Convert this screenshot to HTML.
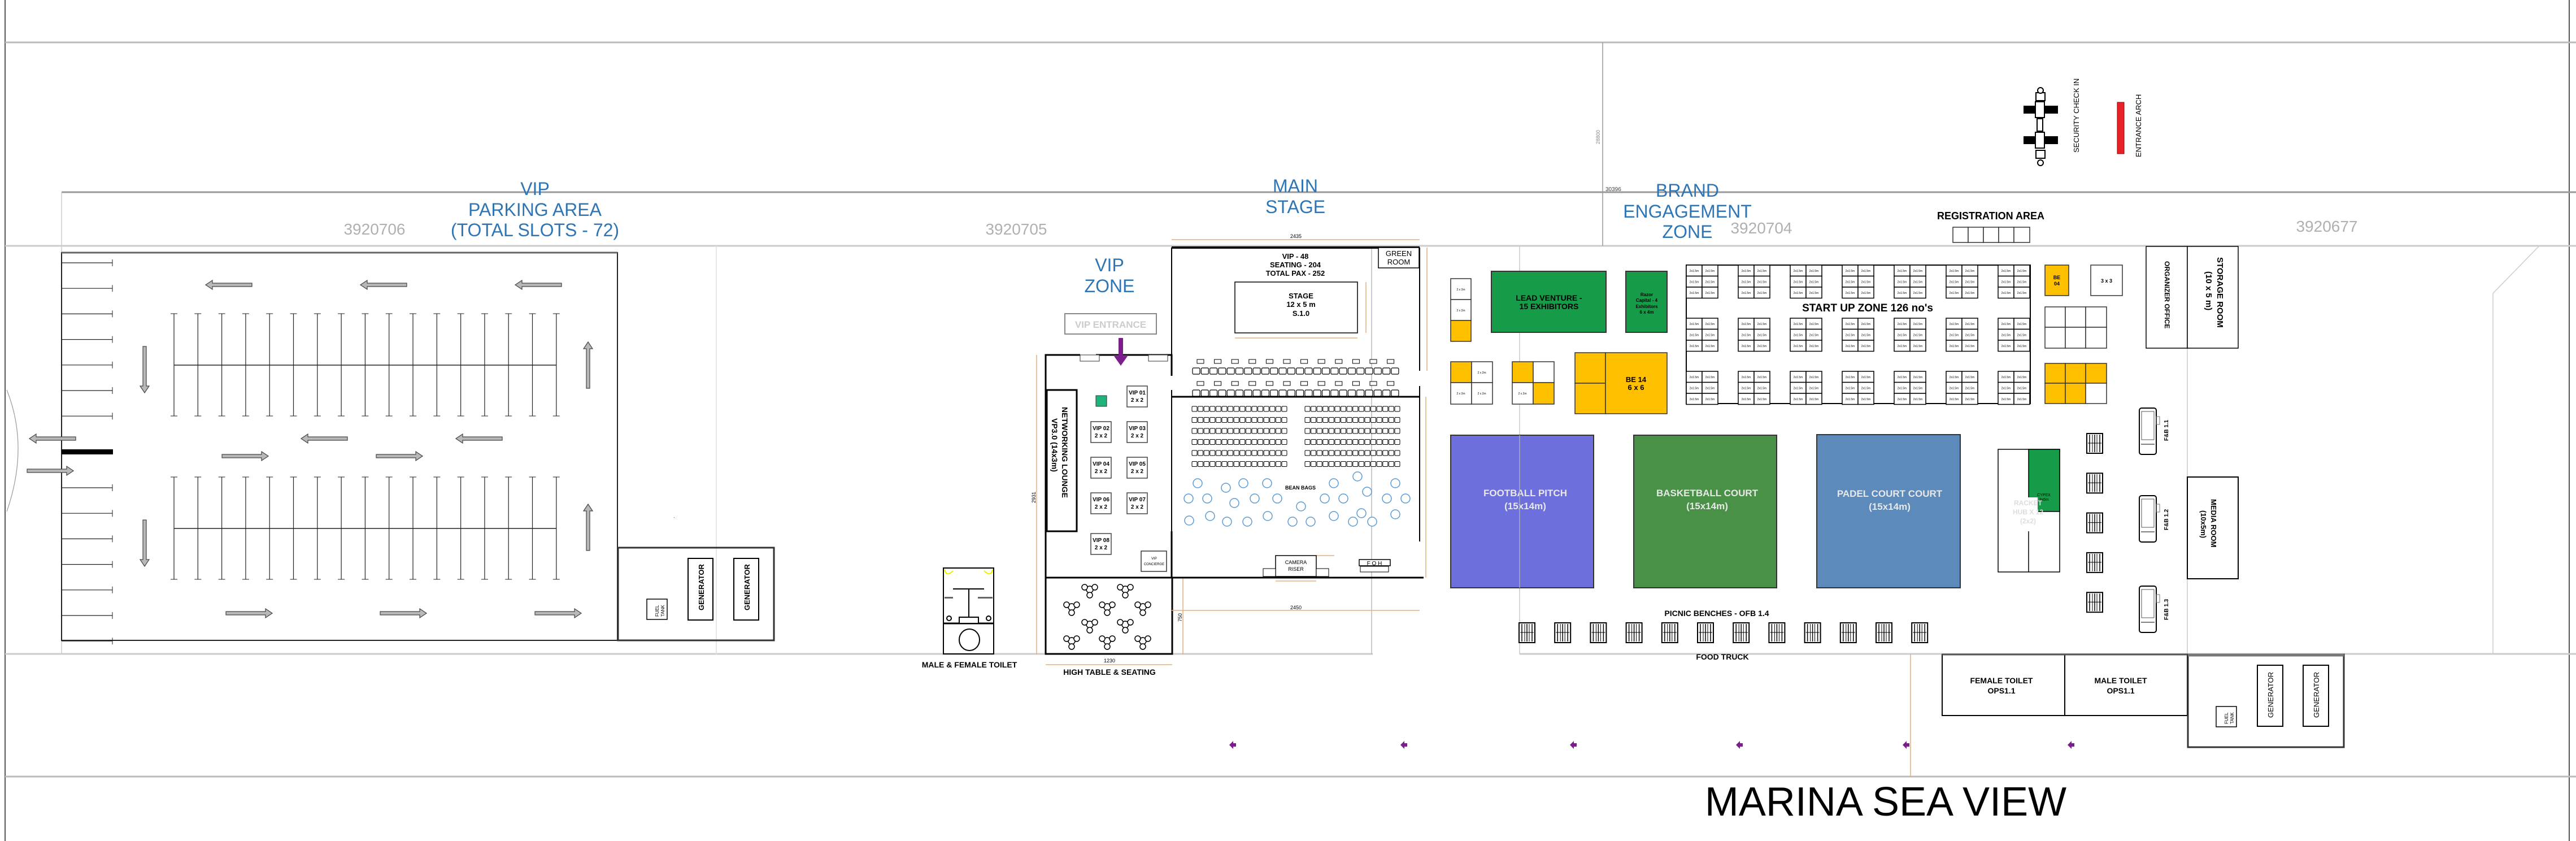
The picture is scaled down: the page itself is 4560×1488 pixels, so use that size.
<!DOCTYPE html>
<html><head><meta charset="utf-8"><style>
html,body{margin:0;padding:0;background:#fff;width:4560px;height:1488px;overflow:hidden}
svg{display:block}
text{font-family:"Liberation Sans",sans-serif}
.blue{fill:#2e75b6;font-size:32px;text-anchor:middle}
.gray{fill:#b0b0b0;font-size:28px;text-anchor:middle}
.b{font-weight:bold}
</style></head><body>
<svg id="s" width="4560" height="1488" viewBox="0 0 4560 1488" xmlns="http://www.w3.org/2000/svg">
<defs>
<g id="arrL"><path d="M0,0 L12,-8 L12,-3 L82,-3 L82,3 L12,3 L12,8 Z" fill="#b8b8b8" stroke="#444" stroke-width="1.2"/></g>
<g id="bench"><rect x="0" y="0" width="28" height="35" fill="#fff" stroke="#000" stroke-width="2"/><line x1="5" y1="2" x2="5" y2="33" stroke="#000" stroke-width="1.5"/><line x1="10" y1="2" x2="10" y2="33" stroke="#000"/><line x1="14" y1="2" x2="14" y2="33" stroke="#000" stroke-width="1.5"/><line x1="18" y1="2" x2="18" y2="33" stroke="#000"/><line x1="23" y1="2" x2="23" y2="33" stroke="#000" stroke-width="1.5"/><line x1="2" y1="17" x2="26" y2="17" stroke="#000"/></g>
<g id="truck"><rect x="0" y="0" width="30" height="82" rx="4" fill="#fff" stroke="#000" stroke-width="2"/><rect x="4" y="6" width="22" height="50" fill="none" stroke="#555"/><rect x="30" y="15" width="6" height="14" fill="none" stroke="#777"/><line x1="3" y1="64" x2="27" y2="64" stroke="#000"/></g>
<g id="trio" fill="#fff" stroke="#000" stroke-width="1.5"><circle cx="0" cy="0" r="6"/><circle cx="-9" cy="-4" r="5"/><circle cx="9" cy="-4" r="5"/><circle cx="0" cy="10" r="5"/></g>
</defs>
<!-- page frame lines -->
<line x1="9" y1="0" x2="9" y2="1488" stroke="#555" stroke-width="2"/>
<line x1="4548" y1="0" x2="4548" y2="1488" stroke="#555" stroke-width="2"/>
<line x1="9" y1="75" x2="4560" y2="75" stroke="#bbb" stroke-width="3"/>
<line x1="109" y1="340" x2="4560" y2="340" stroke="#999" stroke-width="3"/>
<line x1="9" y1="435" x2="4560" y2="435" stroke="#ccc" stroke-width="3"/>
<line x1="9" y1="1157" x2="2430" y2="1157" stroke="#ccc" stroke-width="3"/>
<line x1="2690" y1="1157" x2="4560" y2="1157" stroke="#ccc" stroke-width="3"/>
<line x1="9" y1="1374" x2="4560" y2="1374" stroke="#bbb" stroke-width="3"/>
<line x1="2837" y1="75" x2="2837" y2="435" stroke="#999" stroke-width="1.5"/>
<line x1="109" y1="340" x2="109" y2="1158" stroke="#ccc" stroke-width="1.5"/>
<line x1="1268" y1="435" x2="1268" y2="1158" stroke="#ddd" stroke-width="1.5"/>
<line x1="2428" y1="438" x2="2428" y2="1158" stroke="#bbb" stroke-width="1.5"/>
<line x1="2690" y1="435" x2="2690" y2="1158" stroke="#ccc" stroke-width="1.5"/>
<line x1="3872" y1="436" x2="3872" y2="1158" stroke="#ccc" stroke-width="1.5"/>
<line x1="4413" y1="519" x2="4413" y2="1158" stroke="#ccc" stroke-width="1.5"/>
<line x1="4413" y1="519" x2="4494" y2="436" stroke="#ccc" stroke-width="1.5"/>
<line x1="3382" y1="1157" x2="3382" y2="1374" stroke="#e0b080" stroke-width="1.5"/>
<text x="2832" y="255" font-size="9" fill="#888" transform="rotate(-90 2832 255)">28800</text>
<text x="2842" y="338" font-size="10" fill="#444">30396</text>

<!-- headings -->
<text class="blue" x="947" y="345">VIP</text>
<text class="blue" x="947" y="382">PARKING AREA</text>
<text class="blue" x="947" y="418">(TOTAL SLOTS - 72)</text>
<text class="gray" x="663" y="415">3920706</text>
<text class="gray" x="1799" y="415">3920705</text>
<text class="blue" x="2293" y="340">MAIN</text>
<text class="blue" x="2293" y="377">STAGE</text>
<text class="blue" x="1964" y="480">VIP</text>
<text class="blue" x="1964" y="517">ZONE</text>
<text class="blue" x="2987" y="348">BRAND</text>
<text class="blue" x="2987" y="385">ENGAGEMENT</text>
<text class="blue" x="2987" y="421">ZONE</text>
<text class="gray" x="3118" y="413">3920704</text>
<text class="gray" x="4119" y="410">3920677</text>
<text x="3524" y="388" font-size="18" class="b" text-anchor="middle">REGISTRATION AREA</text>
<g fill="#fff" stroke="#333" stroke-width="1.5"><rect x="3457" y="402" width="27" height="27"/><rect x="3484" y="402" width="27" height="27"/><rect x="3511" y="402" width="27" height="27"/><rect x="3538" y="402" width="27" height="27"/><rect x="3565" y="402" width="28" height="27"/></g>

<!-- security & arch -->
<g stroke="#000" fill="#fff" stroke-width="2">
<rect x="3583" y="188" width="59" height="12" fill="#000"/><rect x="3583" y="242" width="59" height="12" fill="#000"/>
<rect x="3603" y="180" width="16" height="28"/><rect x="3603" y="234" width="16" height="28"/>
<rect x="3604" y="164" width="16" height="14"/><rect x="3604" y="266" width="16" height="14"/>
<rect x="3606" y="210" width="10" height="22"/>
<circle cx="3612" cy="160" r="5"/><circle cx="3612" cy="288" r="5"/>
</g>
<text x="3680" y="270" font-size="13" transform="rotate(-90 3680 270)">SECURITY CHECK IN</text>
<rect x="3748" y="181" width="12" height="91" fill="#e8202a" stroke="#900"/>
<text x="3790" y="278" font-size="13" transform="rotate(-90 3790 278)">ENTRANCE ARCH</text>

<!-- parking -->
<rect x="109" y="447" width="984" height="686" fill="none" stroke="#222" stroke-width="2"/>
<line x1="109" y1="447" x2="1093" y2="447" stroke="#666" stroke-width="3"/>
<path d="M12,690 Q52,790 12,905" fill="none" stroke="#999" stroke-width="1.2"/>
<rect x="109" y="795" width="91" height="9" fill="#000"/>
<g id="park"></g>
<text x="1192" y="916" font-size="10" fill="#444">.</text>

<!-- generator left -->
<rect x="1094" y="969" width="276" height="164" fill="none" stroke="#333" stroke-width="3"/>
<rect x="1145" y="1060" width="36" height="36" fill="#fff" stroke="#000" stroke-width="1.5"/>
<text x="1166" y="1091" font-size="8" transform="rotate(-90 1166 1091)">FUEL</text><text x="1176" y="1091" font-size="8" transform="rotate(-90 1176 1091)">TANK</text>
<rect x="1218" y="988" width="44" height="109" fill="#fff" stroke="#000" stroke-width="2"/>
<rect x="1299" y="988" width="44" height="109" fill="#fff" stroke="#000" stroke-width="2"/>
<text x="1246" y="1080" font-size="13" class="b" transform="rotate(-90 1246 1080)">GENERATOR</text>
<text x="1327" y="1080" font-size="13" class="b" transform="rotate(-90 1327 1080)">GENERATOR</text>

<!-- toilet block -->
<g stroke="#000" fill="#fff" stroke-width="2">
<rect x="1670" y="1005" width="89" height="152"/>
<line x1="1670" y1="1103" x2="1759" y2="1103" stroke-width="3"/>
<ellipse cx="1716" cy="1132" rx="18" ry="19"/>
<line x1="1687" y1="1042" x2="1742" y2="1042"/>
<line x1="1715" y1="1042" x2="1715" y2="1103"/>
<rect x="1672" y="1056" width="15" height="3" fill="#666" stroke="none"/><rect x="1731" y="1056" width="26" height="3" fill="#666" stroke="none"/>
<circle cx="1680" cy="1094" r="4"/><circle cx="1750" cy="1094" r="4"/>
<rect x="1698" y="1092" width="34" height="11"/>
</g>
<path d="M1672,1007 Q1675,1022 1687,1010 M1757,1007 Q1755,1022 1742,1010" stroke="#ee0" fill="none" stroke-width="2"/>
<text x="1716" y="1181" font-size="14" class="b" text-anchor="middle">MALE &amp; FEMALE TOILET</text>

<!-- VIP zone -->
<g stroke="#000" stroke-width="3" fill="none">
<path d="M1851,1022 L1851,628 L1912,628 M1940,628 L2074,628 L2074,665"/>
<rect x="1851" y="1022" width="224" height="135"/>
<path d="M2074,940 L2074,1022"/>
</g>
<line x1="1835" y1="628" x2="1835" y2="1158" stroke="#e0b080" stroke-width="1.5"/>
<text x="1833" y="890" font-size="9" transform="rotate(-90 1833 890)">2931</text>
<line x1="1851" y1="1176" x2="2075" y2="1176" stroke="#e0b080" stroke-width="1.5"/>
<text x="1964" y="1172" font-size="9" text-anchor="middle">1230</text>
<text x="1964" y="1194" font-size="14" class="b" text-anchor="middle">HIGH TABLE &amp; SEATING</text>
<line x1="2094" y1="1022" x2="2094" y2="1158" stroke="#e0b080" stroke-width="1.5"/>
<text x="2092" y="1100" font-size="9" transform="rotate(-90 2092 1100)">750</text>
<rect x="1912" y="628" width="34" height="11" fill="#fff" stroke="#333"/><rect x="2033" y="628" width="34" height="11" fill="#fff" stroke="#333"/>
<rect x="1885" y="555" width="162" height="36" fill="#fff" stroke="#888" stroke-width="2"/>
<text x="1966" y="580" font-size="17" fill="#ccc" class="b" text-anchor="middle">VIP ENTRANCE</text>
<path d="M1980,598 L1988,598 L1988,630 L1996,630 L1984,647 L1972,630 L1980,630 Z" fill="#7b1e8c"/>
<rect x="1853" y="690" width="53" height="250" fill="#fff" stroke="#000" stroke-width="3"/>
<text x="1880" y="720" font-size="14" class="b" transform="rotate(90 1880 720)">NETWORKING LOUNGE</text>
<text x="1862" y="740" font-size="14" class="b" transform="rotate(90 1862 740)">VP3.0 (14x3m)</text>
<rect x="1940" y="700" width="19" height="19" fill="#1fb57a" stroke="#333"/>
<g font-size="10" class="b" text-anchor="middle">
<g id="vips"></g>
</g>
<rect x="2020" y="975" width="45" height="36" fill="#fff" stroke="#333" stroke-width="1.5"/>
<text x="2043" y="990" font-size="6" text-anchor="middle">VIP</text><text x="2043" y="1000" font-size="6" text-anchor="middle">CONCIERGE</text>
<g id="trios"></g>

<!-- Main stage -->
<g stroke="#000" fill="none">
<line x1="2074" y1="438" x2="2513" y2="438" stroke-width="4"/>
<line x1="2074" y1="438" x2="2074" y2="656" stroke-width="2"/>
<line x1="2513" y1="438" x2="2513" y2="656" stroke-width="2"/>
<line x1="2074" y1="702" x2="2513" y2="702" stroke-width="3"/>
<line x1="2074" y1="690" x2="2074" y2="958" stroke-width="2"/>
<line x1="2513" y1="683" x2="2513" y2="958" stroke-width="2"/>
<line x1="2074" y1="1022" x2="2520" y2="1022" stroke-width="3"/>
</g>
<g stroke="#e0b080" stroke-width="1.5" fill="none">
<line x1="2074" y1="424" x2="2513" y2="424"/><line x1="2526" y1="438" x2="2526" y2="656"/><line x1="2524" y1="702" x2="2524" y2="1022"/>
<line x1="2186" y1="598" x2="2403" y2="598"/><line x1="2418" y1="499" x2="2418" y2="589"/>
<line x1="2074" y1="1080" x2="2513" y2="1080"/><line x1="2258" y1="1028" x2="2330" y2="1028"/>
<line x1="2330" y1="983" x2="2362" y2="983"/>
</g>
<text x="2294" y="421" font-size="9" text-anchor="middle">2435</text>
<text x="2294" y="1078" font-size="9" text-anchor="middle">2450</text>
<rect x="2440" y="438" width="72" height="36" fill="#fff" stroke="#000" stroke-width="1.5"/>
<text x="2476" y="453" font-size="13" text-anchor="middle">GREEN</text><text x="2476" y="468" font-size="13" text-anchor="middle">ROOM</text>
<text x="2293" y="458" font-size="13" class="b" text-anchor="middle">VIP - 48</text>
<text x="2293" y="473" font-size="13" class="b" text-anchor="middle">SEATING - 204</text>
<text x="2293" y="488" font-size="13" class="b" text-anchor="middle">TOTAL PAX - 252</text>
<rect x="2186" y="499" width="217" height="90" fill="#fff" stroke="#000" stroke-width="1.5"/>
<text x="2303" y="528" font-size="13" class="b" text-anchor="middle">STAGE</text>
<text x="2303" y="543" font-size="13" class="b" text-anchor="middle">12 x 5 m</text>
<text x="2303" y="559" font-size="13" class="b" text-anchor="middle">S.1.0</text>
<g id="seats"></g>
<text x="2302" y="866" font-size="9" class="b" text-anchor="middle">BEAN BAGS</text>
<rect x="2258" y="983" width="72" height="37" fill="#fff" stroke="#000" stroke-width="1.5"/>
<text x="2294" y="998" font-size="9" text-anchor="middle">CAMERA</text><text x="2294" y="1010" font-size="9" text-anchor="middle">RISER</text>
<rect x="2236" y="1006" width="22" height="14" fill="#fff" stroke="#000"/><rect x="2330" y="1006" width="22" height="14" fill="#fff" stroke="#000"/>
<rect x="2406" y="990" width="55" height="11" fill="#fff" stroke="#000" stroke-width="1.5"/>
<text x="2433" y="1000" font-size="10" text-anchor="middle">F O H</text>
<rect x="2408" y="1002" width="50" height="10" fill="#fff" stroke="#000"/>

<!-- Brand engagement -->
<rect x="2640" y="480" width="203" height="108" fill="#169b48" stroke="#333" stroke-width="2"/>
<text x="2742" y="532" font-size="14" class="b" text-anchor="middle">LEAD VENTURE -</text>
<text x="2742" y="547" font-size="14" class="b" text-anchor="middle">15 EXHIBITORS</text>
<rect x="2878" y="480" width="73" height="108" fill="#169b48" stroke="#333" stroke-width="2"/>
<g font-size="8" class="b" text-anchor="middle"><text x="2915" y="524">Razor</text><text x="2915" y="534">Capital - 4</text><text x="2915" y="545">Exhibitors</text><text x="2915" y="555">6 x 4m</text></g>
<g stroke="#333" stroke-width="1.5">
<rect x="2788" y="624" width="54" height="54" fill="#ffc000"/><rect x="2788" y="678" width="54" height="54" fill="#ffc000"/><rect x="2842" y="624" width="109" height="108" fill="#ffc000"/>
<rect x="2568" y="493" width="36" height="37" fill="#fff"/><rect x="2568" y="530" width="36" height="37" fill="#fff"/><rect x="2568" y="567" width="36" height="37" fill="#ffc000"/>
<rect x="2568" y="640" width="37" height="37" fill="#ffc000"/><rect x="2605" y="640" width="37" height="37" fill="#fff"/><rect x="2568" y="677" width="37" height="38" fill="#fff"/><rect x="2605" y="677" width="37" height="38" fill="#fff"/>
<rect x="2677" y="640" width="37" height="37" fill="#ffc000"/><rect x="2714" y="640" width="37" height="37" fill="#fff"/><rect x="2677" y="677" width="37" height="38" fill="#fff"/><rect x="2714" y="677" width="37" height="38" fill="#ffc000"/>
</g>
<text x="2896" y="676" font-size="13" class="b" text-anchor="middle">BE 14</text><text x="2896" y="690" font-size="13" class="b" text-anchor="middle">6 x 6</text>
<g font-size="5" text-anchor="middle"><text x="2586" y="514">2 x 2m</text><text x="2586" y="551">2 x 2m</text><text x="2623" y="661">2 x 2m</text><text x="2586" y="698">2 x 2m</text><text x="2623" y="698">2 x 2m</text><text x="2695" y="698">2 x 2m</text></g>
<rect x="2985" y="469" width="609" height="245" fill="none" stroke="#000" stroke-width="2"/>
<g id="booths"></g>
<text x="3306" y="551" font-size="19" class="b" text-anchor="middle">START UP ZONE 126 no's</text>
<rect x="3620" y="469" width="42" height="54" fill="#ffc000" stroke="#333" stroke-width="1.5"/>
<text x="3641" y="494" font-size="9" class="b" text-anchor="middle">BE</text><text x="3641" y="505" font-size="9" class="b" text-anchor="middle">04</text>
<rect x="3701" y="469" width="56" height="54" fill="#fff" stroke="#333" stroke-width="1.5"/>
<text x="3729" y="500" font-size="9" class="b" text-anchor="middle">3 x 3</text>
<g stroke="#333" stroke-width="1.5">
<rect x="3620" y="543" width="36" height="36" fill="#fff"/><rect x="3656" y="543" width="36" height="36" fill="#fff"/><rect x="3692" y="543" width="37" height="36" fill="#fff"/>
<rect x="3620" y="579" width="36" height="37" fill="#fff"/><rect x="3656" y="579" width="36" height="37" fill="#fff"/><rect x="3692" y="579" width="37" height="37" fill="#fff"/>
<rect x="3620" y="643" width="36" height="35" fill="#ffc000"/><rect x="3656" y="643" width="36" height="35" fill="#ffc000"/><rect x="3692" y="643" width="37" height="35" fill="#ffc000"/>
<rect x="3620" y="678" width="36" height="36" fill="#ffc000"/><rect x="3656" y="678" width="36" height="36" fill="#ffc000"/><rect x="3692" y="678" width="37" height="36" fill="#fff"/>
</g>
<rect x="2568" y="770" width="253" height="270" fill="#6d6fdc" stroke="#333" stroke-width="2"/>
<rect x="2892" y="770" width="253" height="270" fill="#4a9148" stroke="#333" stroke-width="2"/>
<rect x="3216" y="769" width="254" height="271" fill="#5b8abb" stroke="#333" stroke-width="2"/>
<g fill="#e8e8e8" font-size="17" class="b" text-anchor="middle">
<text x="2700" y="878">FOOTBALL PITCH</text><text x="2700" y="901" class="b">(15x14m)</text>
<text x="3022" y="878">BASKETBALL COURT</text><text x="3022" y="901">(15x14m)</text>
<text x="3345" y="879">PADEL COURT COURT</text><text x="3345" y="902">(15x14m)</text>
</g>
<line x1="2690" y1="770" x2="2690" y2="1040" stroke="#aab" stroke-width="1.5"/>
<rect x="3537" y="795" width="109" height="217" fill="#fff" stroke="#000" stroke-width="1.5"/>
<rect x="3591" y="795" width="55" height="110" fill="#169b48" stroke="#000" stroke-width="1.5"/>
<line x1="3591" y1="905" x2="3591" y2="1012" stroke="#000" stroke-width="1.5"/>
<rect x="3552" y="880" width="55" height="60" fill="#fff"/>
<text x="3618" y="878" font-size="7" text-anchor="middle">CYPEX</text><text x="3618" y="886" font-size="7" text-anchor="middle">3x6m</text>
<g fill="#ddd" font-size="12" class="b" text-anchor="middle"><text x="3590" y="894">RACKET</text><text x="3590" y="910">HUB X 12</text><text x="3590" y="926">(2x2)</text></g>
<g id="benches"></g>
<text x="3039" y="1090" font-size="14" class="b" text-anchor="middle">PICNIC BENCHES - OFB 1.4</text>
<text x="3049" y="1167" font-size="14" class="b" text-anchor="middle">FOOD TRUCK</text>
<use href="#truck" x="3787" y="722"/><use href="#truck" x="3787" y="877"/><use href="#truck" x="3787" y="1037"/>
<g font-size="10" class="b"><text x="3838" y="780" transform="rotate(-90 3838 780)">F&amp;B 1.1</text><text x="3838" y="938" transform="rotate(-90 3838 938)">F&amp;B 1.2</text><text x="3838" y="1097" transform="rotate(-90 3838 1097)">F&amp;B 1.3</text></g>
<rect x="3799" y="436" width="73" height="180" fill="#fff" stroke="#000" stroke-width="1.5"/>
<rect x="3872" y="436" width="90" height="180" fill="#fff" stroke="#000" stroke-width="1.5"/>
<text x="3832" y="462" font-size="12" class="b" transform="rotate(90 3832 462)">ORGANIZER OFFICE</text>
<text x="3925" y="455" font-size="15" class="b" transform="rotate(90 3925 455)">STORAGE ROOM</text>
<text x="3905" y="480" font-size="15" class="b" transform="rotate(90 3905 480)">(10 x 5 m)</text>
<rect x="3872" y="844" width="90" height="180" fill="#fff" stroke="#000" stroke-width="2"/>
<text x="3914" y="883" font-size="13" class="b" transform="rotate(90 3914 883)">MEDIA ROOM</text>
<text x="3896" y="903" font-size="13" class="b" transform="rotate(90 3896 903)">(10x5m)</text>
<!-- toilets right -->
<rect x="3438" y="1158" width="217" height="108" fill="#fff" stroke="#000" stroke-width="2"/>
<rect x="3655" y="1158" width="217" height="108" fill="#fff" stroke="#000" stroke-width="2"/>
<line x1="3438" y1="1158" x2="3872" y2="1158" stroke="#555" stroke-width="3"/>
<g font-size="14" class="b" text-anchor="middle"><text x="3543" y="1209">FEMALE TOILET</text><text x="3543" y="1227">OPS1.1</text><text x="3754" y="1209">MALE TOILET</text><text x="3754" y="1227">OPS1.1</text></g>
<rect x="3873" y="1158" width="276" height="164" fill="none" stroke="#333" stroke-width="3"/>
<line x1="3873" y1="1159" x2="4149" y2="1159" stroke="#777" stroke-width="5"/>
<rect x="3923" y="1250" width="36" height="36" fill="#fff" stroke="#000" stroke-width="1.5"/>
<text x="3944" y="1281" font-size="8" transform="rotate(-90 3944 1281)">FUEL</text><text x="3954" y="1281" font-size="8" transform="rotate(-90 3954 1281)">TANK</text>
<rect x="3996" y="1177" width="45" height="108" fill="#fff" stroke="#000" stroke-width="2"/>
<rect x="4077" y="1177" width="45" height="108" fill="#fff" stroke="#000" stroke-width="2"/>
<text x="4024" y="1270" font-size="13" transform="rotate(-90 4024 1270)">GENERATOR</text>
<text x="4105" y="1270" font-size="13" transform="rotate(-90 4105 1270)">GENERATOR</text>
<g id="purp" fill="#7b1e8c"></g>
<text x="3338" y="1443" font-size="72" text-anchor="middle" fill="#000">MARINA SEA VIEW</text>
</svg>
<script>
var NS="http://www.w3.org/2000/svg";
function el(p,t,a){var e=document.createElementNS(NS,t);for(var k in a)e.setAttribute(k,a[k]);p.appendChild(e);return e;}
var park=document.getElementById('park');
// stalls
[[555,736,646],[844,1025,935]].forEach(function(b){
 el(park,'line',{x1:308,y1:b[2],x2:985,y2:b[2],stroke:'#222','stroke-width':1.5});
 for(var i=0;i<=16;i++){var x=308+i*42.3;
  el(park,'line',{x1:x,y1:b[0],x2:x,y2:b[1],stroke:'#222','stroke-width':1.2});
  el(park,'line',{x1:x-6,y1:b[0],x2:x+6,y2:b[0],stroke:'#222'});
  el(park,'line',{x1:x-6,y1:b[1],x2:x+6,y2:b[1],stroke:'#222'});}
});
[465,863].forEach(function(y0){for(var i=0;i<7;i++){var y=y0+i*45.2;
 el(park,'line',{x1:109,y1:y,x2:199,y2:y,stroke:'#222','stroke-width':1.2});
 el(park,'line',{x1:199,y1:y-6,x2:199,y2:y+6,stroke:'#222'});}});
function arr(x,y,dir){var g=el(park,'use',{href:'#arrL'});var t='translate('+x+','+y+')';
 if(dir=='R')t+=' rotate(180 41 0)';if(dir=='D')t='translate('+x+','+y+') rotate(-90)';if(dir=='U')t='translate('+x+','+y+') rotate(90)';g.setAttribute('transform',t);}
[364,638,912].forEach(function(x){arr(x,504,'L');});
[52,533,807].forEach(function(x){arr(x,776,'L');});
[393,666].forEach(function(x){arr(x,807,'R');});
arr(48,833,'R');
[400,673,947].forEach(function(x){arr(x,1085,'R');});
arr(256,695,'D');arr(256,1002,'D');arr(1041,605,'U');arr(1041,892,'U');
// VIP booths
var v=document.getElementById('vips');
[['VIP 01',1995,683],['VIP 02',1931,746],['VIP 03',1995,746],['VIP 04',1931,809],['VIP 05',1995,809],['VIP 06',1931,872],['VIP 07',1995,872],['VIP 08',1931,944]].forEach(function(d){
 el(v,'rect',{x:d[1],y:d[2],width:36,height:37,fill:'#fff',stroke:'#444','stroke-width':1.5});
 var t=el(v,'text',{x:d[1]+18,y:d[2]+15});t.textContent=d[0];
 var t2=el(v,'text',{x:d[1]+18,y:d[2]+28});t2.textContent='2 x 2';});
var tr=document.getElementById('trios');
[[1929,1043],[1992,1043],[1897,1074],[1960,1074],[2023,1074],[1929,1105],[1992,1105],[1897,1134],[1960,1134],[2023,1134]].forEach(function(p){el(tr,'use',{href:'#trio',x:p[0],y:p[1]});});
// seats
var s=document.getElementById('seats');
[651,690].forEach(function(y){for(var i=0;i<24;i++)el(s,'rect',{x:2111+i*15.3,y:y,width:13,height:11,rx:2,fill:'#fff',stroke:'#000','stroke-width':1.2});
 for(var j=0;j<12;j++)el(s,'rect',{x:2119+j*30.6,y:y-15,width:12,height:7,fill:'#fff',stroke:'#000'});});
for(var r=0;r<6;r++){var y=719+r*19.5;[2110,2310].forEach(function(x0){for(var i=0;i<16;i++)el(s,'rect',{x:x0+i*10.6,y:y,width:9,height:9,rx:1.5,fill:'#fff',stroke:'#000','stroke-width':1});});}
var bb=[[2120,855],[2170,863],[2201,855],[2243,855],[2361,855],[2403,843],[2470,855],[2104,882],[2137,882],[2185,890],[2221,882],[2261,882],[2345,882],[2378,882],[2420,870],[2455,882],[2488,882],[2303,896],[2410,908],[2105,921],[2142,913],[2172,923],[2208,923],[2244,913],[2288,923],[2320,923],[2361,913],[2395,923],[2429,923],[2470,910]];
bb.forEach(function(p){el(s,'circle',{cx:p[0],cy:p[1],r:8,fill:'#fff',stroke:'#5b9bd5','stroke-width':1.5});});
// startup booths
var bo=document.getElementById('booths');
[469,563,657].forEach(function(y0){for(var g=0;g<7;g++){var x0=2985+g*92;for(var c=0;c<2;c++)for(var r=0;r<3;r++){
 el(bo,'rect',{x:x0+c*28,y:y0+r*19.5,width:28,height:19.5,fill:'#fff',stroke:'#000','stroke-width':1.5});
 var t=el(bo,'text',{x:x0+c*28+14,y:y0+r*19.5+12,'font-size':5,'text-anchor':'middle'});t.textContent='2x1.5m';}}});
// benches
var be=document.getElementById('benches');
for(var i=0;i<12;i++)el(be,'use',{href:'#bench',x:2689+i*63.2,y:1102});
for(var i=0;i<5;i++)el(be,'use',{href:'#bench',x:3694,y:767+i*70.3});
// purple arrows
var pu=document.getElementById('purp');
[2181,2484,2784,3078,3373,3665].forEach(function(x){el(pu,'path',{d:'M'+(x-5)+',1318 L'+(x+2)+',1311 L'+(x+2)+',1315 L'+(x+7)+',1315 L'+(x+7)+',1321 L'+(x+2)+',1321 L'+(x+2)+',1325 Z'});});
</script>
</body></html>
